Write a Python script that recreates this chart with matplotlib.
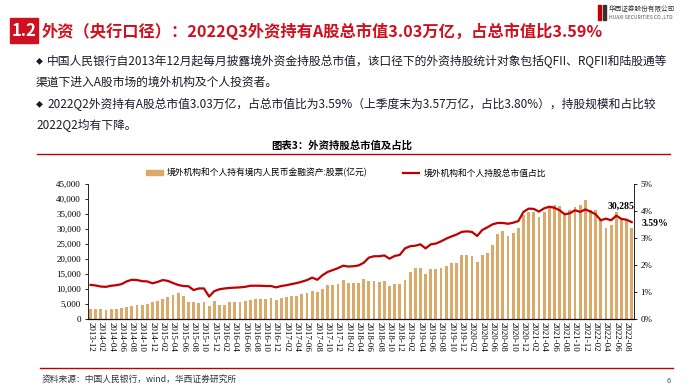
import matplotlib
matplotlib.use('Agg')
import matplotlib.pyplot as plt
from matplotlib.patches import Rectangle, Patch
from matplotlib.lines import Line2D
import numpy as np

plt.rcParams['font.family'] = ['Noto Sans CJK SC', 'DejaVu Sans']

# months 2013-12 .. 2022-09
months = ['2013-12'] + ['%d-%02d' % (y, m) for y in range(2014, 2022) for m in range(1, 13)] \
         + ['2022-%02d' % m for m in range(1, 10)]

# 境外机构和个人持有境内人民币金融资产:股票(亿元)
holdings = [3450, 3450, 3400, 3200, 3350, 3450, 3650, 4200, 4450, 4700,
            4800, 5100, 5600, 6200, 6700, 7400, 8000, 8600, 7900, 5900,
            5700, 5300, 5900, 4500, 6000, 4900, 4900, 5800, 5800, 5800,
            6000, 6300, 6700, 6600, 6700, 7000, 6500, 7000, 7500, 7800,
            7800, 8300, 8800, 9300, 9200, 10200, 11300, 11300, 11900, 13000,
            12100, 12100, 12100, 13300, 12900, 12900, 12300, 12900, 11200, 11900,
            11600, 13200, 15700, 16900, 17100, 15100, 16600, 16600, 16900, 17800,
            18600, 18800, 21300, 21300, 21100, 19000, 21400, 21900, 24700, 28400,
            29300, 27600, 28600, 30500, 34600, 35700, 35700, 34000, 35700, 37700,
            37900, 37600, 34700, 36200, 37400, 38000, 39800, 36400, 36200, 33000,
            30400, 31500, 35700, 33800, 32900, 30285]

# 境外机构和个人持股总市值占比 (%)
share = [1.27, 1.25, 1.21, 1.20, 1.24, 1.26, 1.30, 1.40, 1.46, 1.45,
         1.41, 1.40, 1.33, 1.38, 1.45, 1.42, 1.34, 1.27, 1.23, 1.22,
         1.08, 1.14, 1.14, 0.84, 1.04, 1.11, 1.14, 1.16, 1.17, 1.18,
         1.20, 1.24, 1.24, 1.24, 1.23, 1.23, 1.18, 1.23, 1.26, 1.30,
         1.34, 1.39, 1.45, 1.54, 1.46, 1.63, 1.75, 1.82, 1.89, 1.98,
         1.95, 1.96, 1.99, 2.09, 2.28, 2.33, 2.33, 2.36, 2.24, 2.34,
         2.38, 2.62, 2.70, 2.72, 2.77, 2.62, 2.77, 2.80, 2.88, 2.98,
         3.06, 3.13, 3.23, 3.25, 3.23, 3.08, 3.30, 3.40, 3.51, 3.56,
         3.56, 3.53, 3.57, 3.63, 3.97, 4.09, 4.08, 3.98, 4.10, 4.16,
         4.12, 4.03, 3.88, 3.92, 4.03, 3.97, 4.06, 3.98, 3.88, 3.66,
         3.72, 3.66, 3.83, 3.71, 3.68, 3.59]

bar_label = '境外机构和个人持有境内人民币金融资产:股票(亿元)'
line_label = '境外机构和个人持股总市值占比'

RED = '#C00000'
BAR = '#DBA96A'
SERIF = 'Liberation Serif'

fig = plt.figure(figsize=(7, 3.92), dpi=100)
W, H = 700.0, 392.0

def fx(x):
    return x / W

def fy(y):
    return 1 - y / H

# ---- slide header ----
fig.patches.append(Rectangle((fx(10), fy(43)), fx(28), 25 / H, transform=fig.transFigure,
                             color='#D0101E', zorder=1))
fig.text(fx(24), fy(31), '1.2', color='white', fontsize=12, fontweight='bold',
         ha='center', va='center')
fig.text(fx(42), fy(31), '外资（央行口径）：2022Q3外资持有A股总市值3.03万亿，占总市值比3.59%',
         color='#D0101E', fontsize=11.7, fontweight='bold', va='center')

# logo
fig.patches.append(Rectangle((fx(598), fy(20)), fx(3), 15 / H, transform=fig.transFigure, color='#C00000'))
fig.patches.append(Rectangle((fx(603), fy(20)), fx(3), 15 / H, transform=fig.transFigure, color='#333333'))
fig.text(fx(609), fy(9), '华西证券股份有限公司', fontsize=4.8, color='#333333', va='center')
fig.text(fx(609), fy(17), 'HUAXI SECURITIES CO.,LTD.', fontsize=3.6, color='#555555', va='center')

# bullets
txt_col = '#1a1a2a'
fig.text(fx(36), fy(61), '◆', fontsize=5, color=txt_col, va='center')
fig.text(fx(47), fy(61), '中国人民银行自2013年12月起每月披露境外资金持股总市值，该口径下的外资持股统计对象包括QFII、RQFII和陆股通等',
         fontsize=8.5, color=txt_col, va='center')
fig.text(fx(36), fy(82), '渠道下进入A股市场的境外机构及个人投资者。', fontsize=8.5, color=txt_col, va='center')
fig.text(fx(36), fy(104), '◆', fontsize=5, color=txt_col, va='center')
fig.text(fx(47), fy(104), '2022Q2外资持有A股总市值3.03万亿，占总市值比为3.59%（上季度末为3.57万亿，占比3.80%），持股规模和占比较',
         fontsize=8.5, color=txt_col, va='center')
fig.text(fx(36), fy(125), '2022Q2均有下降。', fontsize=8.5, color=txt_col, va='center')

# chart title + rules
fig.text(fx(342), fy(146), '图表3：外资持股总市值及占比', fontsize=7.5, fontweight='bold',
         ha='center', va='center')
fig.add_artist(Line2D([fx(37), fx(670)], [fy(154), fy(154)], color=RED, lw=1))
fig.add_artist(Line2D([fx(40), fx(673)], [fy(368), fy(368)], color=RED, lw=1))
fig.text(fx(42), fy(379), '资料来源：中国人民银行，wind，华西证券研究所', fontsize=6.3,
         color='#333333', va='center', style='italic')
fig.text(fx(667), fy(381), '6', fontsize=5.5, color='#555555', va='center')

# ---- chart ----
ax = fig.add_axes([fx(88), fy(319.3), fx(634.3 - 88), (319.3 - 184) / H])
x = np.arange(len(months))
ax.bar(x, holdings, width=0.55, color=BAR, zorder=2)
ax.set_xlim(-0.5, len(months) - 0.5)
ax.set_ylim(0, 45000)
ax.set_yticks(np.arange(0, 45001, 5000))
ax.set_yticklabels(['{:,}'.format(v) for v in range(0, 45001, 5000)], fontsize=6.5, family=SERIF)
ax.set_xticks(x[::2])
ax.set_xticklabels(months[::2], rotation=-90, fontsize=6.5, family=SERIF)
ax.tick_params(axis='x', length=0, pad=2)
ax.tick_params(axis='y', length=2.5, width=0.6, pad=2.5, direction='out')
for s in ['top', 'right']:
    ax.spines[s].set_visible(False)
ax.spines['left'].set_linewidth(0.6)
ax.spines['bottom'].set_linewidth(0.9)

ax2 = ax.twinx()
ax2.plot(x, share, color=RED, lw=1.6, zorder=3)
ax2.set_ylim(0, 5)
ax2.set_yticks(range(0, 6))
ax2.set_yticklabels(['%d%%' % v for v in range(0, 6)], fontsize=6.5, family=SERIF)
ax2.tick_params(axis='y', length=2.5, width=0.6, pad=2, direction='out')
for s in ['top', 'left', 'bottom']:
    ax2.spines[s].set_visible(False)
ax2.spines['right'].set_linewidth(0.6)

# end labels
ax.text(x[-1] - 2, holdings[-1] + 7400, '{:,}'.format(holdings[-1]), fontsize=7, fontweight='bold',
        family=SERIF, ha='center', va='center')
ax2.annotate('%.2f%%' % share[-1], xy=(x[-1], share[-1]), xytext=(7, -1), textcoords='offset points',
             fontsize=7, fontweight='bold', family=SERIF, ha='left', va='center',
             annotation_clip=False)

handles = [Patch(color=BAR), Line2D([0], [0], color=RED, lw=1.6)]
fig.legend(handles, [bar_label, line_label], loc='center', bbox_to_anchor=(fx(346), fy(173)),
           ncol=2, frameon=False, fontsize=6.3, handlelength=1.9, handleheight=0.6,
           handletextpad=0.5, columnspacing=4.0)

fig.savefig('out.png', dpi=100)
